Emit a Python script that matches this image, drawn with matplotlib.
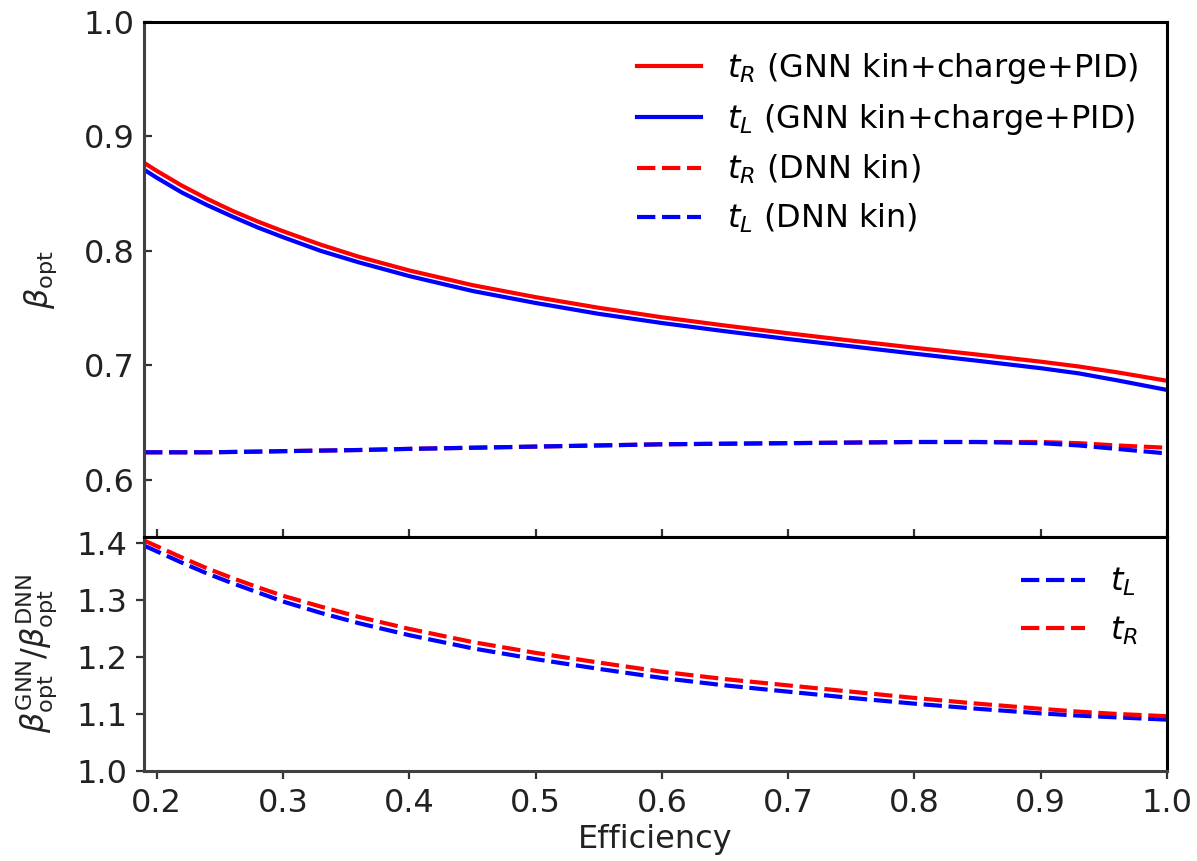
import matplotlib
matplotlib.use("Agg")
import matplotlib.pyplot as plt

# ---- data ----
eff = [0.19, 0.20, 0.22, 0.24, 0.26, 0.28, 0.30, 0.33, 0.36, 0.40, 0.45, 0.50,
       0.55, 0.60, 0.65, 0.70, 0.75, 0.80, 0.85, 0.90, 0.93, 0.96, 1.00]

gnn_tR = [0.877, 0.870, 0.857, 0.8455, 0.835, 0.8257, 0.8172, 0.8054, 0.7949, 0.7829,
          0.7701, 0.7596, 0.7503, 0.742, 0.7348, 0.728, 0.7216, 0.7154, 0.7094, 0.7032,
          0.699, 0.694, 0.6865]
gnn_tL = [0.871, 0.864, 0.851, 0.840, 0.830, 0.8205, 0.812, 0.800, 0.790, 0.778,
          0.765, 0.7545, 0.745, 0.737, 0.7298, 0.723, 0.7166, 0.7102, 0.7040, 0.6975,
          0.693, 0.687, 0.6785]
dnn_tR = [0.624, 0.624, 0.624, 0.624, 0.6243, 0.6246, 0.625, 0.6255, 0.626, 0.627,
          0.628, 0.629, 0.630, 0.631, 0.6315, 0.632, 0.6325, 0.633, 0.633, 0.633,
          0.632, 0.630, 0.628]
dnn_tL = [0.624, 0.624, 0.624, 0.624, 0.6243, 0.6246, 0.625, 0.6255, 0.626, 0.627,
          0.628, 0.629, 0.630, 0.631, 0.6315, 0.632, 0.6325, 0.633, 0.633, 0.632,
          0.630, 0.627, 0.623]

ratio_tR = [1.404, 1.394, 1.374, 1.355, 1.338, 1.322, 1.307, 1.288, 1.270, 1.249,
            1.226, 1.207, 1.190, 1.174, 1.161, 1.150, 1.139, 1.128, 1.118, 1.109,
            1.104, 1.100, 1.096]
ratio_tL = [1.395, 1.385, 1.365, 1.346, 1.329, 1.313, 1.297, 1.277, 1.259, 1.238,
            1.215, 1.196, 1.179, 1.163, 1.150, 1.139, 1.128, 1.118, 1.109, 1.101,
            1.097, 1.094, 1.090]

xticks = [0.2, 0.3, 0.4, 0.5, 0.6, 0.7, 0.8, 0.9, 1.0]
yticks_top = [0.6, 0.7, 0.8, 0.9, 1.0]
yticks_bot = [1.0, 1.1, 1.2, 1.3, 1.4]

labels_top = [r'$t_R$ (GNN kin+charge+PID)', r'$t_L$ (GNN kin+charge+PID)',
              r'$t_R$ (DNN kin)', r'$t_L$ (DNN kin)']
labels_bot = [r'$t_L$', r'$t_R$']

# ---- figure ----
W, H = 1197, 861
fig = plt.figure(figsize=(W / 100, H / 100), dpi=100)
L, R = 144, 1167
T1, B1, B2 = 22, 537, 771
ax1 = fig.add_axes([L / W, 1 - B1 / H, (R - L) / W, (B1 - T1) / H])
ax2 = fig.add_axes([L / W, 1 - B2 / H, (R - L) / W, (B2 - B1) / H])

FS = 23
lw = 3.0
dash = (4.4, 1.6)

ax1.plot(eff, gnn_tR, color='red', lw=lw, label=labels_top[0])
ax1.plot(eff, gnn_tL, color='blue', lw=lw, label=labels_top[1])
ax1.plot(eff, dnn_tR, color='red', lw=lw, ls='--', dashes=dash, label=labels_top[2])
ax1.plot(eff, dnn_tL, color='blue', lw=lw, ls='--', dashes=dash, label=labels_top[3])

ax2.plot(eff, ratio_tL, color='blue', lw=lw, ls='--', dashes=dash, label=labels_bot[0])
ax2.plot(eff, ratio_tR, color='red', lw=lw, ls='--', dashes=dash, label=labels_bot[1])

for ax in (ax1, ax2):
    ax.set_xlim(0.19, 1.0)
    ax.set_xticks(xticks)
    for s in ax.spines.values():
        s.set_linewidth(2.2)
        s.set_color('black')
    ax.spines['left'].set_color('#404040')

ax2.spines['bottom'].set_color('#404040')

ax1.set_ylim(0.55, 1.0)
ax1.set_yticks(yticks_top)
ax1.tick_params(direction='in', length=6, width=1.6, labelsize=FS, pad=7, colors='#333333',
                labelcolor='#222222')
ax1.tick_params(axis='x', labelbottom=False)

ax2.set_ylim(1.0, 1.41)
ax2.set_yticks(yticks_bot)
ax2.tick_params(direction='out', length=6, width=1.6, labelsize=FS, pad=6, colors='#333333',
                labelcolor='#222222')

ax1.set_ylabel(r'$\beta_{\rm opt}$', fontsize=FS, color='#222222')
ax2.set_ylabel(r'$\beta^{\rm GNN}_{\rm opt}/\beta^{\rm DNN}_{\rm opt}$', fontsize=FS,
               color='#222222')
ax1.yaxis.set_label_coords(-0.083, 0.5)
ax2.yaxis.set_label_coords(-0.083, 0.5)
ax2.set_xlabel('Efficiency', fontsize=FS, color='#222222', labelpad=4)

ax1.legend(loc='upper right', frameon=False, fontsize=FS, handlelength=2.0)
ax2.legend(loc='upper right', frameon=False, fontsize=FS, handlelength=2.0)

fig.savefig('out.png', dpi=100)
